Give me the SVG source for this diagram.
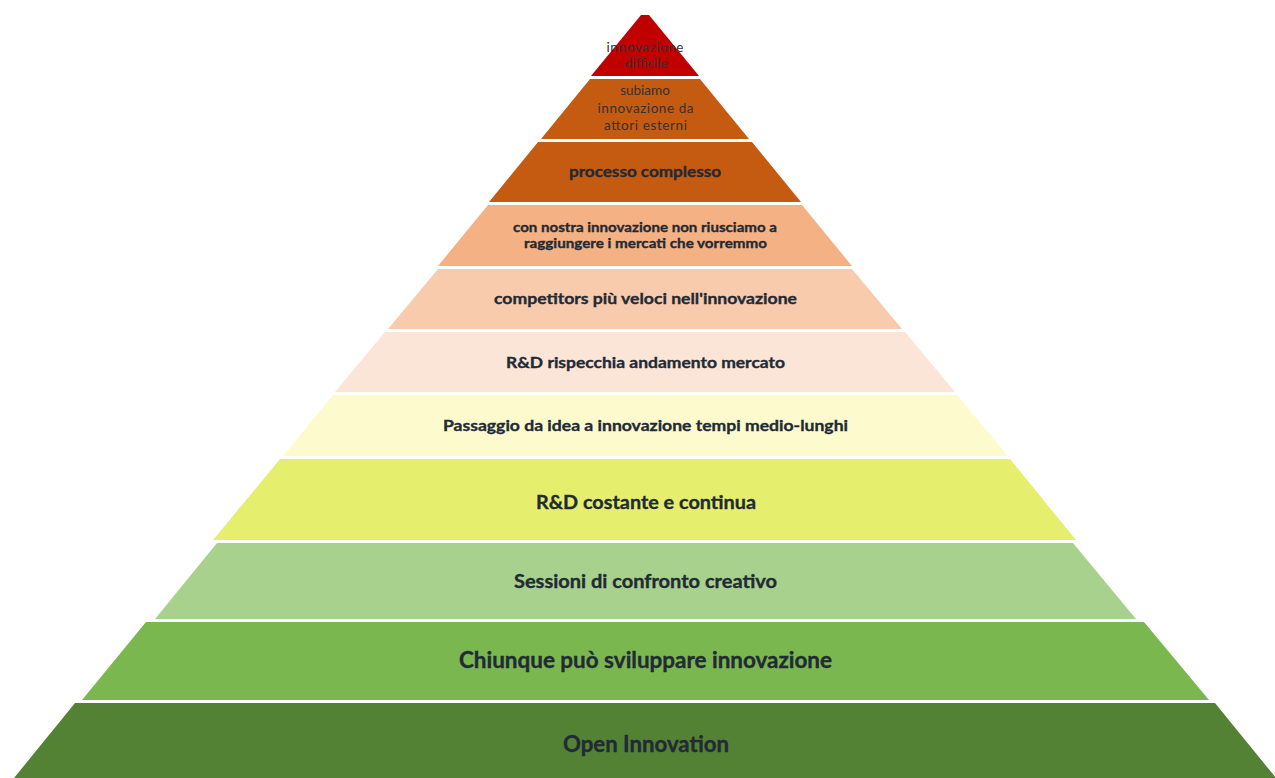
<svg xmlns="http://www.w3.org/2000/svg" width="1275" height="778" viewBox="0 0 1275 778">
<style>
.b{font-family:Lato,"Liberation Sans",sans-serif;font-weight:bold;fill:#222A35;stroke:#222A35;stroke-width:0.35;text-anchor:middle}
.r{font-family:Lato,"Liberation Sans",sans-serif;font-weight:normal;fill:#333333;text-anchor:middle}
</style>
<rect width="1275" height="778" fill="#FFFFFF"/>
<g id="layer1">
<polygon points="641,15 649,15 699,76 591,76" fill="#C00000"/>
<text class="r" x="645" y="51.5" font-size="13.5" textLength="77">innovazione</text>
<text class="r" x="646" y="68" font-size="13.5">difficile</text>
</g>
<g id="layer2">
<polygon points="590,79 700,79 749,139 541,139" fill="#C55A11"/>
<text class="r" x="645" y="95" font-size="13.5">subiamo</text>
<text class="r" x="645.5" y="112.5" font-size="13.5" textLength="96">innovazione da</text>
<text class="r" x="645.5" y="130" font-size="13.5" textLength="83">attori esterni</text>
</g>
<g id="layer3">
<polygon points="538,142 752,142 801,202 489,202" fill="#C55A11"/>
<text class="b" x="645" y="177" font-size="16" textLength="152" lengthAdjust="spacingAndGlyphs">processo complesso</text>
</g>
<g id="layer4">
<polygon points="488,205 802,205 852,266 438,266" fill="#F4B183"/>
<text class="b" x="645" y="231.5" font-size="14" textLength="264" lengthAdjust="spacingAndGlyphs">con nostra innovazione non riusciamo a</text>
<text class="b" x="645.5" y="247.5" font-size="14" textLength="243" lengthAdjust="spacingAndGlyphs">raggiungere i mercati che vorremmo</text>
</g>
<g id="layer5">
<polygon points="438,269 852,269 902,329 388,329" fill="#F8CBAD"/>
<text class="b" x="645.5" y="304" font-size="16" textLength="303" lengthAdjust="spacingAndGlyphs">competitors più veloci nell'innovazione</text>
</g>
<g id="layer6">
<polygon points="385,332 905,332 955,392 335,392" fill="#FBE5D6"/>
<text class="b" x="645.5" y="368" font-size="16" textLength="279" lengthAdjust="spacingAndGlyphs">R&amp;D rispecchia andamento mercato</text>
</g>
<g id="layer7">
<polygon points="333,395 957,395 1008,456 283,456" fill="#FDFACE"/>
<text class="b" x="645.5" y="431" font-size="16" textLength="405" lengthAdjust="spacingAndGlyphs">Passaggio da idea a innovazione tempi medio-lunghi</text>
</g>
<g id="layer8">
<polygon points="280,459 1010,459 1076,540 213,540" fill="#E6EE6E"/>
<text class="b" x="646" y="509" font-size="19.5" textLength="220" lengthAdjust="spacingAndGlyphs">R&amp;D costante e continua</text>
</g>
<g id="layer9">
<polygon points="217,543 1073,543 1136,619 155,619" fill="#A9D18E"/>
<text class="b" x="645.5" y="588" font-size="18.5" textLength="263" lengthAdjust="spacingAndGlyphs">Sessioni di confronto creativo</text>
</g>
<g id="layer10">
<polygon points="146,622 1144,622 1209,700 82,700" fill="#7AB74F"/>
<text class="b" x="645.5" y="668" font-size="22" textLength="373" lengthAdjust="spacingAndGlyphs">Chiunque può sviluppare innovazione</text>
</g>
<g id="layer11">
<polygon points="75,703 1215,703 1276,778 14,778" fill="#548235"/>
<text class="b" x="646" y="751.5" font-size="22" textLength="166" lengthAdjust="spacingAndGlyphs">Open Innovation</text>
</g>
<g id="connectors"></g>
</svg>
